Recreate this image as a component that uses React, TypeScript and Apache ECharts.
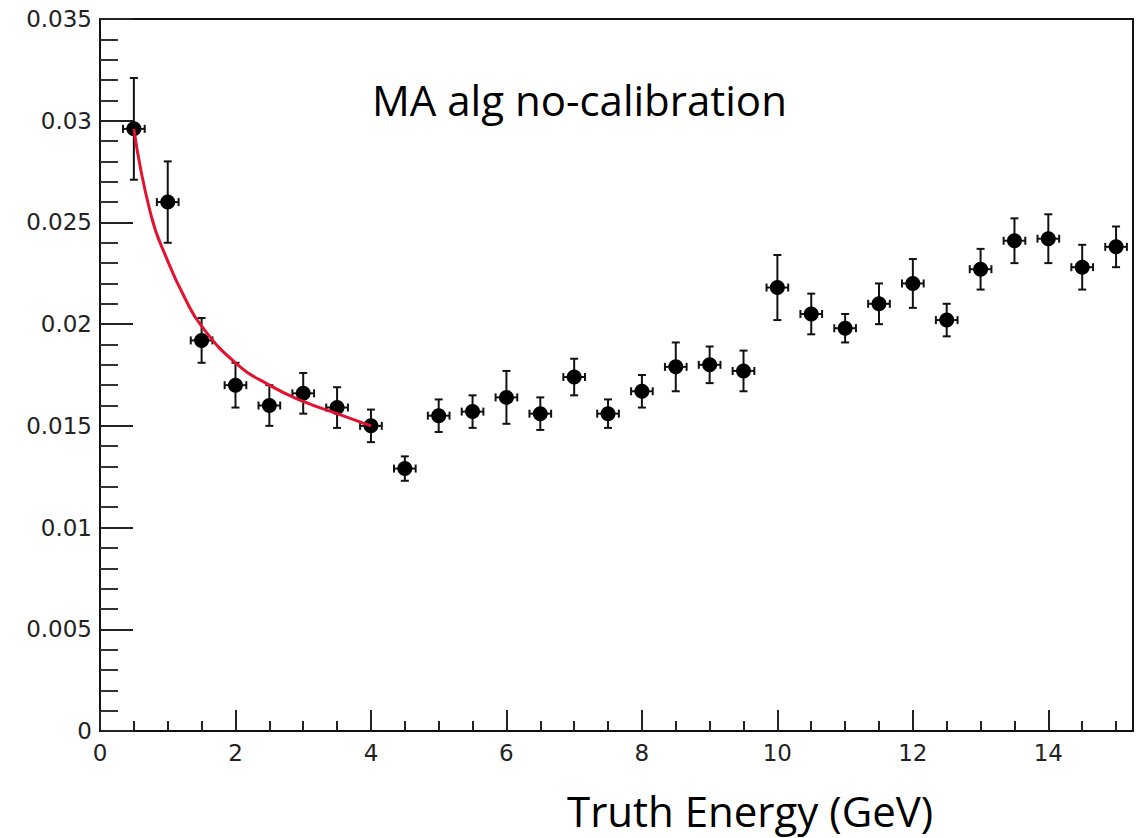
import React, { useEffect, useRef } from "react";
import * as echarts from "echarts";

const energies = [0.5, 1, 1.5, 2, 2.5, 3, 3.5, 4, 4.5, 5, 5.5, 6, 6.5, 7, 7.5, 8, 8.5, 9, 9.5, 10, 10.5, 11, 11.5, 12, 12.5, 13, 13.5, 14, 14.5, 15];
const resolution = [0.0296, 0.0260, 0.0192, 0.0170, 0.0160, 0.0166, 0.0159, 0.0150, 0.0129, 0.0155, 0.0157, 0.0164, 0.0156, 0.0174, 0.0156, 0.0167, 0.0179, 0.0180, 0.0177, 0.0218, 0.0205, 0.0198, 0.0210, 0.0220, 0.0202, 0.0227, 0.0241, 0.0242, 0.0228, 0.0238];
const resolutionErr = [0.0025, 0.0020, 0.0011, 0.0011, 0.0010, 0.0010, 0.0010, 0.0008, 0.0006, 0.0008, 0.0008, 0.0013, 0.0008, 0.0009, 0.0007, 0.0008, 0.0012, 0.0009, 0.0010, 0.0016, 0.0010, 0.0007, 0.0010, 0.0012, 0.0008, 0.0010, 0.0011, 0.0012, 0.0011, 0.0010];
const energyErr = 0.16;

const fitX = [0.5, 0.75, 1, 1.25, 1.5, 2, 2.5, 3, 3.5, 4];
const fitY = [0.0296, 0.0254, 0.0231, 0.0213, 0.0199, 0.0181, 0.0170, 0.0162, 0.0156, 0.0150];

const xMajorTicks = [0, 2, 4, 6, 8, 10, 12, 14];
const xMinorTicks = [0.5, 1, 1.5, 2.5, 3, 3.5, 4.5, 5, 5.5, 6.5, 7, 7.5, 8.5, 9, 9.5, 10.5, 11, 11.5, 12.5, 13, 13.5, 14.5, 15];

const title = "MA alg no-calibration";
const xTitle = "Truth Energy (GeV)";

export default function App() {
  const ref = useRef<HTMLDivElement>(null);
  useEffect(() => {
    document.body.style.margin = "0";
    const chart = echarts.init(ref.current!, null, { renderer: "svg" });
    const pts = energies.map((x, i) => [x, resolution[i], resolutionErr[i], energyErr]);
    const fit = fitX.map((x, i) => [x, fitY[i]]);
    const labelFont = { fontFamily: "DejaVu Sans", fontSize: 23, color: "#222" };
    chart.setOption({
      animation: false,
      backgroundColor: "#ffffff",
      grid: { left: 100, top: 19, right: 4, bottom: 107, show: true, borderColor: "#111", borderWidth: 2, backgroundColor: "transparent" },
      xAxis: [
        {
          type: "value", min: 0, max: 15.25, position: "bottom",
          axisLine: { show: true, onZero: false, lineStyle: { color: "#111", width: 2 } },
          axisTick: { show: true, inside: true, length: 21, customValues: xMajorTicks, lineStyle: { color: "#222", width: 2 } },
          axisLabel: { show: true, customValues: xMajorTicks, margin: 10, ...labelFont },
          splitLine: { show: false },
        },
        {
          type: "value", min: 0, max: 15.25, position: "bottom",
          axisLine: { show: false },
          axisTick: { show: true, inside: true, length: 10, customValues: xMinorTicks, lineStyle: { color: "#222", width: 2 } },
          axisLabel: { show: false },
          splitLine: { show: false },
        },
      ],
      yAxis: {
        type: "value", min: 0, max: 0.035, interval: 0.005,
        axisLine: { show: true, onZero: false, lineStyle: { color: "#111", width: 2 } },
        axisTick: { show: true, inside: true, length: 33, lineStyle: { color: "#222", width: 2 } },
        minorTick: { show: true, splitNumber: 5, length: 18, lineStyle: { color: "#333", width: 2 } },
        axisLabel: { margin: 8, formatter: (v: number) => String(parseFloat(v.toFixed(3))), ...labelFont },
        splitLine: { show: false },
      },
      series: [
        {
          type: "custom",
          xAxisIndex: 0,
          encode: { x: 0, y: 1 },
          data: pts,
          z: 3,
          renderItem: (params: any, api: any) => {
            const x = api.value(0), y = api.value(1), ey = api.value(2), ex = api.value(3);
            const c = api.coord([x, y]);
            const t = api.coord([x, y + ey]);
            const b = api.coord([x, y - ey]);
            const l = api.coord([x - ex, y]);
            const r = api.coord([x + ex, y]);
            const cap = 4;
            const style = { stroke: "#111", lineWidth: 2 };
            const ln = (x1: number, y1: number, x2: number, y2: number) => ({ type: "line", shape: { x1, y1, x2, y2 }, style });
            return {
              type: "group",
              children: [
                ln(c[0], t[1], c[0], b[1]),
                ln(c[0] - cap, t[1], c[0] + cap, t[1]),
                ln(c[0] - cap, b[1], c[0] + cap, b[1]),
                ln(l[0], c[1], r[0], c[1]),
                ln(l[0], c[1] - cap, l[0], c[1] + cap),
                ln(r[0], c[1] - cap, r[0], c[1] + cap),
              ],
            };
          },
        },
        {
          type: "scatter",
          xAxisIndex: 0,
          data: energies.map((x, i) => [x, resolution[i]]),
          symbol: "circle",
          symbolSize: 15,
          itemStyle: { color: "#000", opacity: 1 },
          z: 4,
        },
        {
          type: "line",
          xAxisIndex: 0,
          data: fit,
          smooth: true,
          showSymbol: false,
          lineStyle: { color: "#e3122f", width: 3 },
          z: 5,
        },
      ],
      graphic: [
        { type: "text", left: 372, top: 78, style: { text: title, fontFamily: "Open Sans", fontSize: 42, fill: "#000" } },
        { type: "text", left: 567, top: 789, style: { text: xTitle, fontFamily: "Open Sans", fontSize: 42, fill: "#000" } },
      ],
    });
    return () => chart.dispose();
  }, []);
  return <div ref={ref} style={{ width: 1137, height: 838 }} />;
}
